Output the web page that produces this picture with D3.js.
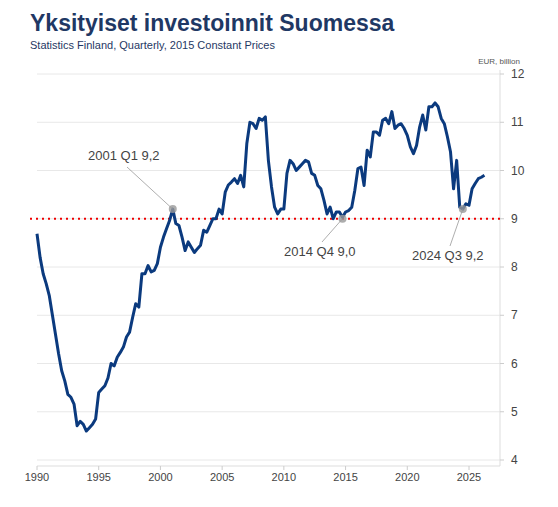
<!DOCTYPE html><html><head><meta charset="utf-8">
<script src="https://cdn.jsdelivr.net/npm/d3@7"></script>
<style>body{margin:0;background:#fff;font-family:"Liberation Sans",Arial,sans-serif}</style></head><body>
<svg id="c" width="558" height="507"></svg>
<script>
const startYear = 1990;
const values = [
8.69,8.2,7.86,7.65, 7.4,7.0,6.6,6.2, 5.85,5.64,5.36,5.3, 5.16,4.71,4.8,4.74,
4.6,4.67,4.74,4.85, 5.4,5.47,5.54,5.7, 6.0,5.95,6.13,6.23, 6.34,6.55,6.65,6.96,
7.24,7.17,7.86,7.86, 8.03,7.9,7.93,8.07, 8.41,8.62,8.8,8.97, 9.2,8.9,8.86,8.62,
8.34,8.52,8.41,8.3, 8.38,8.45,8.76,8.72, 8.86,9.0,9.0,9.2, 9.1,9.55,9.7,9.76,
9.83,9.73,9.9,9.66, 10.56,11.0,10.97,10.87, 11.08,11.04,11.11,10.2, 9.66,9.24,9.1,9.2,
9.2,9.94,10.21,10.14, 10.0,10.07,10.14,10.21, 10.18,9.94,9.9,9.69, 9.62,9.38,9.1,9.24,
9.0,9.14,9.14,9.03, 9.14,9.17,9.24,9.59, 10.04,10.07,9.69,10.42, 10.28,10.8,10.8,10.73,
11.04,11.08,10.97,11.22, 10.87,10.94,10.97,10.87, 10.73,10.49,10.35,10.52, 10.9,11.15,10.84,11.32,
11.32,11.4,11.32,11.08, 10.97,10.7,10.39,9.62, 10.21,9.24,9.2,9.31, 9.28,9.62,9.73,9.83,
9.86,9.9];
const yTicks = [4,5,6,7,8,9,10,11,12];
const xTicks = [1990,1995,2000,2005,2010,2015,2020,2025];
const annotations = [
 {q:"2001 Q1", v:9.2, label:"2001 Q1 9,2", tx:88, ty:160, lx:127, ly:167},
 {q:"2014 Q4", v:9.0, label:"2014 Q4 9,0", tx:284, ty:256, lx:322, ly:242},
 {q:"2024 Q3", v:9.2, label:"2024 Q3 9,2", tx:412, ty:260, lx:450, ly:246}
];
const threshold = 9;

const data = values.map((v,i)=>({t:startYear+i/4, v}));
const svg = d3.select("#c");
const x = d3.scaleLinear().domain([1990,2025]).range([37,469]);
const y = d3.scaleLinear().domain([4,12]).range([460,74]);
const navy="#1f3864";
svg.append("text").attr("x",30).attr("y",31).attr("font-size",23).attr("font-weight","bold").attr("fill",navy).text("Yksityiset investoinnit Suomessa");
svg.append("text").attr("x",30).attr("y",49).attr("font-size",11).attr("fill",navy).text("Statistics Finland, Quarterly, 2015 Constant Prices");
svg.append("text").attr("x",520).attr("y",64).attr("font-size",8).attr("text-anchor","end").attr("fill","#555").text("EUR, billion");
const R=500;
svg.selectAll(".g").data(yTicks).join("line").attr("x1",37).attr("x2",R).attr("y1",d=>y(d)).attr("y2",d=>y(d)).attr("stroke","#e8e8e8");
svg.append("line").attr("x1",R).attr("x2",R).attr("y1",70).attr("y2",466).attr("stroke","#ddd");
svg.selectAll(".yt").data(yTicks).join("text").attr("x",511).attr("y",d=>y(d)+4).attr("font-size",12).attr("fill","#444").text(d=>d);
svg.selectAll(".ytk").data(yTicks).join("line").attr("x1",R).attr("x2",R+4).attr("y1",d=>y(d)).attr("y2",d=>y(d)).attr("stroke","#ccc");
svg.append("line").attr("x1",37).attr("x2",R).attr("y1",466).attr("y2",466).attr("stroke","#ddd");
svg.selectAll(".xtk").data(xTicks).join("line").attr("x1",d=>x(d)).attr("x2",d=>x(d)).attr("y1",466).attr("y2",470).attr("stroke","#ccc");
svg.selectAll(".xt").data(xTicks).join("text").attr("x",d=>x(d)).attr("y",481).attr("font-size",11).attr("text-anchor","middle").attr("fill","#444").text(d=>d);
svg.append("line").attr("x1",30).attr("x2",R).attr("y1",y(threshold)).attr("y2",y(threshold)).attr("stroke","#e00").attr("stroke-width",2).attr("stroke-dasharray","2,4");
svg.append("path").datum(data).attr("fill","none").attr("stroke","#0b3a7e").attr("stroke-width",3).attr("stroke-linejoin","round")
 .attr("d",d3.line().x(d=>x(d.t)).y(d=>y(d.v)));
annotations.forEach(a=>{
 const [yr,q]=a.q.split(" Q"); const t=+yr+(+q-1)/4;
 const px=x(t), py=y(a.v);
 svg.append("line").attr("x1",a.lx).attr("y1",a.ly).attr("x2",px).attr("y2",py).attr("stroke","#999").attr("stroke-width",0.8);
 svg.append("circle").attr("cx",px).attr("cy",py).attr("r",4).attr("fill","#999").attr("opacity",0.8);
 svg.append("text").attr("x",a.tx).attr("y",a.ty).attr("font-size",13).attr("fill","#444").text(a.label);
});
</script></body></html>
